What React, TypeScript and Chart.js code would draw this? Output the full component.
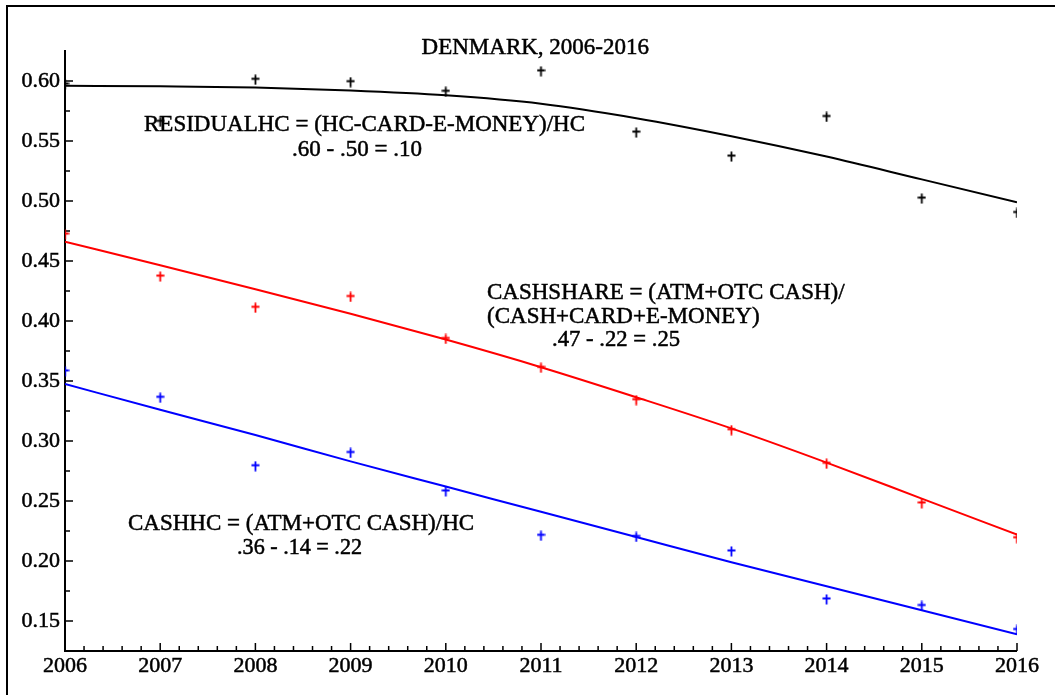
import React, { useEffect, useRef } from "react";
import { Chart, registerables } from "chart.js";

Chart.register(...registerables);

// ---- Data ----
const YEARS = [2006, 2007, 2008, 2009, 2010, 2011, 2012, 2013, 2014, 2015, 2016];

const RESIDUAL_HC = [0.597, 0.566, 0.601, 0.599, 0.591, 0.608, 0.557, 0.537, 0.570, 0.502, 0.490];
const RESIDUAL_HC_FIT = [0.596, 0.5955, 0.5945, 0.592, 0.588, 0.581, 0.569, 0.554, 0.537, 0.518, 0.499];

const CASH_SHARE = [0.472, 0.437, 0.411, 0.420, 0.385, 0.361, 0.334, 0.309, 0.281, 0.248, 0.219];
const CASH_SHARE_FIT = [0.466, 0.4465, 0.4265, 0.406, 0.3845, 0.3615, 0.3365, 0.3105, 0.282, 0.252, 0.222];

const CASH_HC = [0.358, 0.336, 0.279, 0.290, 0.258, 0.221, 0.220, 0.208, 0.168, 0.1625, 0.1425];
const CASH_HC_FIT = [0.3475, 0.326, 0.305, 0.283, 0.262, 0.241, 0.220, 0.199, 0.179, 0.159, 0.139];

const X_TICKS = [2006, 2007, 2008, 2009, 2010, 2011, 2012, 2013, 2014, 2015, 2016];
const Y_TICKS = [0.15, 0.2, 0.25, 0.3, 0.35, 0.4, 0.45, 0.5, 0.55, 0.6];

const TITLE = "DENMARK, 2006-2016";
const LABEL_RESIDUAL = ["RESIDUALHC = (HC-CARD-E-MONEY)/HC", ".60 - .50 = .10"];
const LABEL_SHARE = ["CASHSHARE = (ATM+OTC CASH)/", "(CASH+CARD+E-MONEY)", ".47 - .22 = .25"];
const LABEL_CASHHC = ["CASHHC = (ATM+OTC CASH)/HC", ".36 - .14 = .22"];

const FONT = '"Liberation Serif", "Times New Roman", serif';

function toXY(xs: number[], ys: number[]) {
  return xs.map((x, i) => ({ x, y: ys[i] }));
}

function makeCross(color: string): HTMLCanvasElement {
  const c = document.createElement("canvas");
  c.width = 9;
  c.height = 11;
  const g = c.getContext("2d")!;
  g.strokeStyle = color;
  g.lineWidth = 1.8;
  g.beginPath();
  g.moveTo(4.5, 0.5);
  g.lineTo(4.5, 10.5);
  g.moveTo(0.5, 4.5);
  g.lineTo(8.5, 4.5);
  g.stroke();
  return c;
}

const framePlugin = {
  id: "frame",
  beforeDraw(chart: any) {
    const ctx = chart.ctx;
    ctx.save();
    ctx.fillStyle = "#fff";
    ctx.fillRect(0, 0, chart.width, chart.height);
    ctx.fillStyle = "#000";
    ctx.fillRect(6, 5, chart.width - 6, 2);
    ctx.fillRect(6, 5, 2, chart.height - 5);
    ctx.restore();
  },
};

const axesPlugin = {
  id: "mmaAxes",
  beforeDatasetsDraw(chart: any) {
    const ctx = chart.ctx;
    const xs = chart.scales.x;
    const ys = chart.scales.y;
    const { left, right, top, bottom } = chart.chartArea;
    ctx.save();
    ctx.strokeStyle = "#000";
    ctx.lineWidth = 2;
    ctx.beginPath();
    ctx.moveTo(left, top);
    ctx.lineTo(left, bottom);
    ctx.lineTo(right, bottom);
    ctx.stroke();
    ctx.lineWidth = 1.5;
    ctx.beginPath();
    X_TICKS.forEach((t, i) => {
      const px = xs.getPixelForValue(t);
      ctx.moveTo(px, bottom);
      ctx.lineTo(px, bottom - 8);
      if (i < X_TICKS.length - 1) {
        const step = X_TICKS[i + 1] - t;
        for (let k = 1; k < 5; k++) {
          const mx = xs.getPixelForValue(t + (step * k) / 5);
          ctx.moveTo(mx, bottom);
          ctx.lineTo(mx, bottom - 5);
        }
      }
    });
    Y_TICKS.forEach((t, i) => {
      const py = ys.getPixelForValue(t);
      ctx.moveTo(left, py);
      ctx.lineTo(left + 8, py);
      if (i < Y_TICKS.length - 1) {
        const my = ys.getPixelForValue((t + Y_TICKS[i + 1]) / 2);
        ctx.moveTo(left, my);
        ctx.lineTo(left + 5, my);
      }
    });
    ctx.stroke();
    ctx.restore();
  },
};

const textPlugin = {
  id: "mmaText",
  afterDatasetsDraw(chart: any) {
    const ctx = chart.ctx;
    const xs = chart.scales.x;
    const ys = chart.scales.y;
    const X = (v: number) => xs.getPixelForValue(v);
    const Y = (v: number) => ys.getPixelForValue(v);
    ctx.save();
    ctx.fillStyle = "#000";
    ctx.strokeStyle = "#000";
    ctx.lineWidth = 0.5;
    ctx.textBaseline = "middle";
    ctx.font = `23px ${FONT}`;
    const put = (t: string, x: number, y: number, w: number) => {
      ctx.fillText(t, x, y, w);
      ctx.strokeText(t, x, y, w);
    };

    ctx.textAlign = "center";
    put(TITLE, X(2010.94), Y(0.6275), 230);

    ctx.textAlign = "left";
    put(LABEL_RESIDUAL[0], X(2006.83), Y(0.5633), 446);
    put(LABEL_RESIDUAL[1], X(2008.385), Y(0.5425), 130);

    put(LABEL_SHARE[0], X(2010.433), Y(0.4233), 375);
    put(LABEL_SHARE[1], X(2010.433), Y(0.4033), 275);
    put(LABEL_SHARE[2], X(2011.116), Y(0.3842), 128);

    put(LABEL_CASHHC[0], X(2006.662), Y(0.2308), 352);
    put(LABEL_CASHHC[1], X(2007.807), Y(0.2108), 125);
    ctx.restore();
  },
};

export default function App() {
  const ref = useRef<HTMLCanvasElement | null>(null);

  useEffect(() => {
    document.body.style.margin = "0";
    const canvas = ref.current!;
    const crossBlack = makeCross("#000");
    const crossRed = makeCross("#ff0000");
    const crossBlue = makeCross("#0000ff");

    const fitLine = (data: any[], color: string) => ({
      type: "line" as const,
      data,
      borderColor: color,
      borderWidth: 2,
      pointRadius: 0,
      tension: 0.4,
      cubicInterpolationMode: "monotone" as const,
      fill: false,
    });
    const points = (data: any[], img: HTMLCanvasElement) => ({
      type: "line" as const,
      data,
      showLine: false,
      pointStyle: img,
      pointRadius: 5,
      borderColor: "transparent",
      backgroundColor: "transparent",
    });

    const chart = new Chart(canvas, {
      type: "line",
      data: {
        datasets: [
          fitLine(toXY(YEARS, RESIDUAL_HC_FIT), "#000"),
          points(toXY(YEARS, RESIDUAL_HC), crossBlack),
          fitLine(toXY(YEARS, CASH_SHARE_FIT), "#ff0000"),
          points(toXY(YEARS, CASH_SHARE), crossRed),
          fitLine(toXY(YEARS, CASH_HC_FIT), "#0000ff"),
          points(toXY(YEARS, CASH_HC), crossBlue),
        ] as any,
      },
      options: {
        animation: false,
        responsive: false,
        events: [],
        layout: { padding: { top: 50, right: 38, left: 0, bottom: 0 } },
        plugins: {
          legend: { display: false },
          tooltip: { enabled: false },
          title: { display: false },
        },
        scales: {
          x: {
            type: "linear",
            min: 2006,
            max: 2016,
            afterBuildTicks: (s: any) => {
              s.ticks = X_TICKS.map((v) => ({ value: v }));
            },
            afterFit: (s: any) => {
              s.height = 44;
            },
            grid: { display: true, drawOnChartArea: false, drawTicks: false },
            border: { display: false },
            ticks: {
              color: "#000",
              font: { family: FONT, size: 22 },
              textStrokeColor: "#000",
              textStrokeWidth: 0.5,
              padding: 2,
              maxRotation: 0,
              autoSkip: false,
              callback: (v: any) => String(v),
            },
          },
          y: {
            type: "linear",
            min: 0.125,
            max: 0.6258,
            afterBuildTicks: (s: any) => {
              s.ticks = Y_TICKS.map((v) => ({ value: v }));
            },
            afterFit: (s: any) => {
              s.width = 65;
            },
            grid: { display: true, drawOnChartArea: false, drawTicks: false },
            border: { display: false },
            ticks: {
              color: "#000",
              font: { family: FONT, size: 22 },
              textStrokeColor: "#000",
              textStrokeWidth: 0.5,
              padding: 5,
              autoSkip: false,
              callback: (v: any) => Number(v).toFixed(2),
            },
          },
        },
      },
      plugins: [framePlugin, axesPlugin, textPlugin],
    });
    return () => chart.destroy();
  }, []);

  return (
    <div style={{ width: 1055, height: 695, position: "relative" }}>
      <canvas ref={ref} width={1055} height={695} style={{ display: "block", width: 1055, height: 695 }} />
    </div>
  );
}
